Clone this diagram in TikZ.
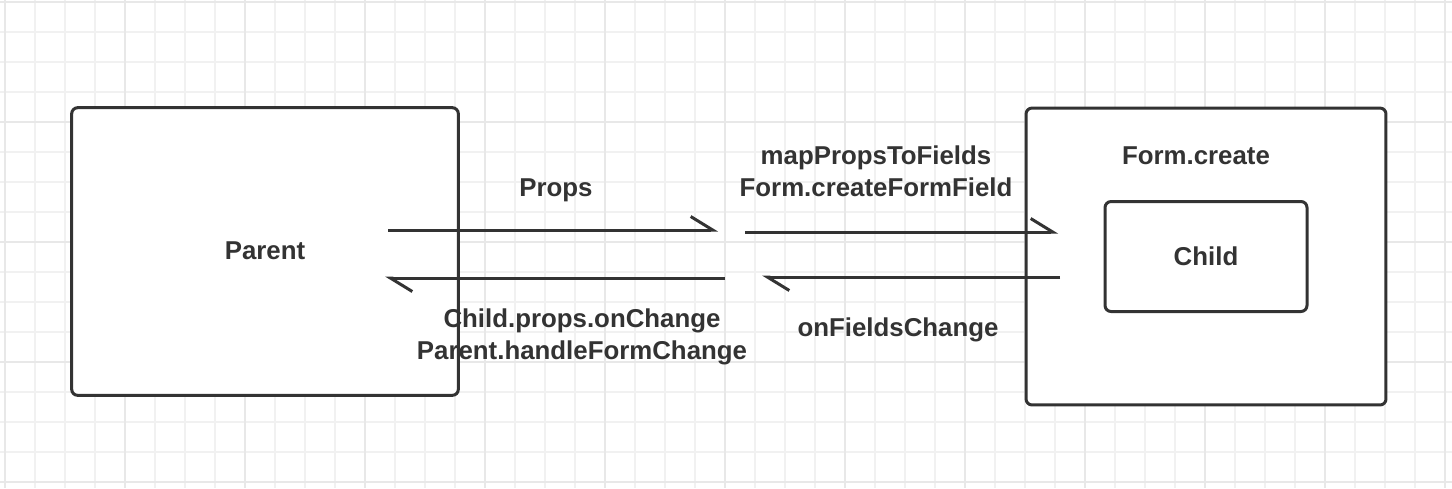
\documentclass[tikz,border=0pt]{standalone}
\usepackage{fontspec}
\setmainfont{Liberation Sans}
\usetikzlibrary{positioning,arrows.meta}
\definecolor{ink}{HTML}{333333}
\definecolor{gridminor}{HTML}{F1F1F1}
\definecolor{gridmajor}{HTML}{E8E8E8}
\tikzset{
  box/.style={draw=ink,line width=0.06cm,rounded corners=0.12cm,fill=white},
  lbl/.style={text=ink,font=\fontsize{14.7}{18}\selectfont\bfseries,align=center},
  flow/.style={draw=ink,line width=0.06cm,-{Straight Barb[left,length=0.44cm,width=0.54cm]}}
}
\begin{document}
\begin{tikzpicture}[x=0.02cm,y=-0.02cm]
  \useasboundingbox (0,0) rectangle (1452,488);
  \fill[white] (0,0) rectangle (1452,488);
  \foreach \i in {5,35,...,1445} \draw[gridminor,line width=0.04cm] (\i,0) -- (\i,488);
  \foreach \j in {2,32,...,482} \draw[gridminor,line width=0.04cm] (0,\j) -- (1452,\j);
  \foreach \i in {5,125,...,1445} \draw[gridmajor,line width=0.04cm] (\i,0) -- (\i,488);
  \foreach \j in {2,122,...,482} \draw[gridmajor,line width=0.04cm] (0,\j) -- (1452,\j);

  \node[fill=white,minimum width=7.72cm,minimum height=5.74cm,rounded corners=0.12cm] (parent) at (265,251.5) {};
  \node[lbl] (parentlbl) at (265,251) {Parent};
  \node[box,minimum width=7.2cm,minimum height=5.94cm] (form) at (1206,256.5) {};
  \node[box,minimum width=4.04cm,minimum height=2.2cm,lbl] (child) at (1206,256.5) {Child};
  \node[lbl] (formlbl) at (1196,156) {Form.create};

  \coordinate (a1) at (388,230); \coordinate (a2) at (718,230);
  \coordinate (b1) at (745,232); \coordinate (b2) at (1058,232);
  \coordinate (c1) at (1060,277); \coordinate (c2) at (762,277);
  \coordinate (d1) at (725,278); \coordinate (d2) at (385,278);
  \draw[flow] (a1) -- (a2);
  \draw[flow] (b1) -- (b2);
  \draw[flow] (c1) -- (c2);
  \draw[flow] (d1) -- (d2);

  \node[lbl] (props) at (556,190) {Props};
  \node[lbl] (fwd) at (876,171.5) {mapPropsToFields\\Form.createFormField};
  \node[lbl] (back) at (582,337) {Child.props.onChange\\Parent.handleFormChange};
  \node[lbl] (fields) at (898,330) {onFieldsChange};

  \draw[box,fill=none] (parent.south west) rectangle (parent.north east);
\end{tikzpicture}
\end{document}
